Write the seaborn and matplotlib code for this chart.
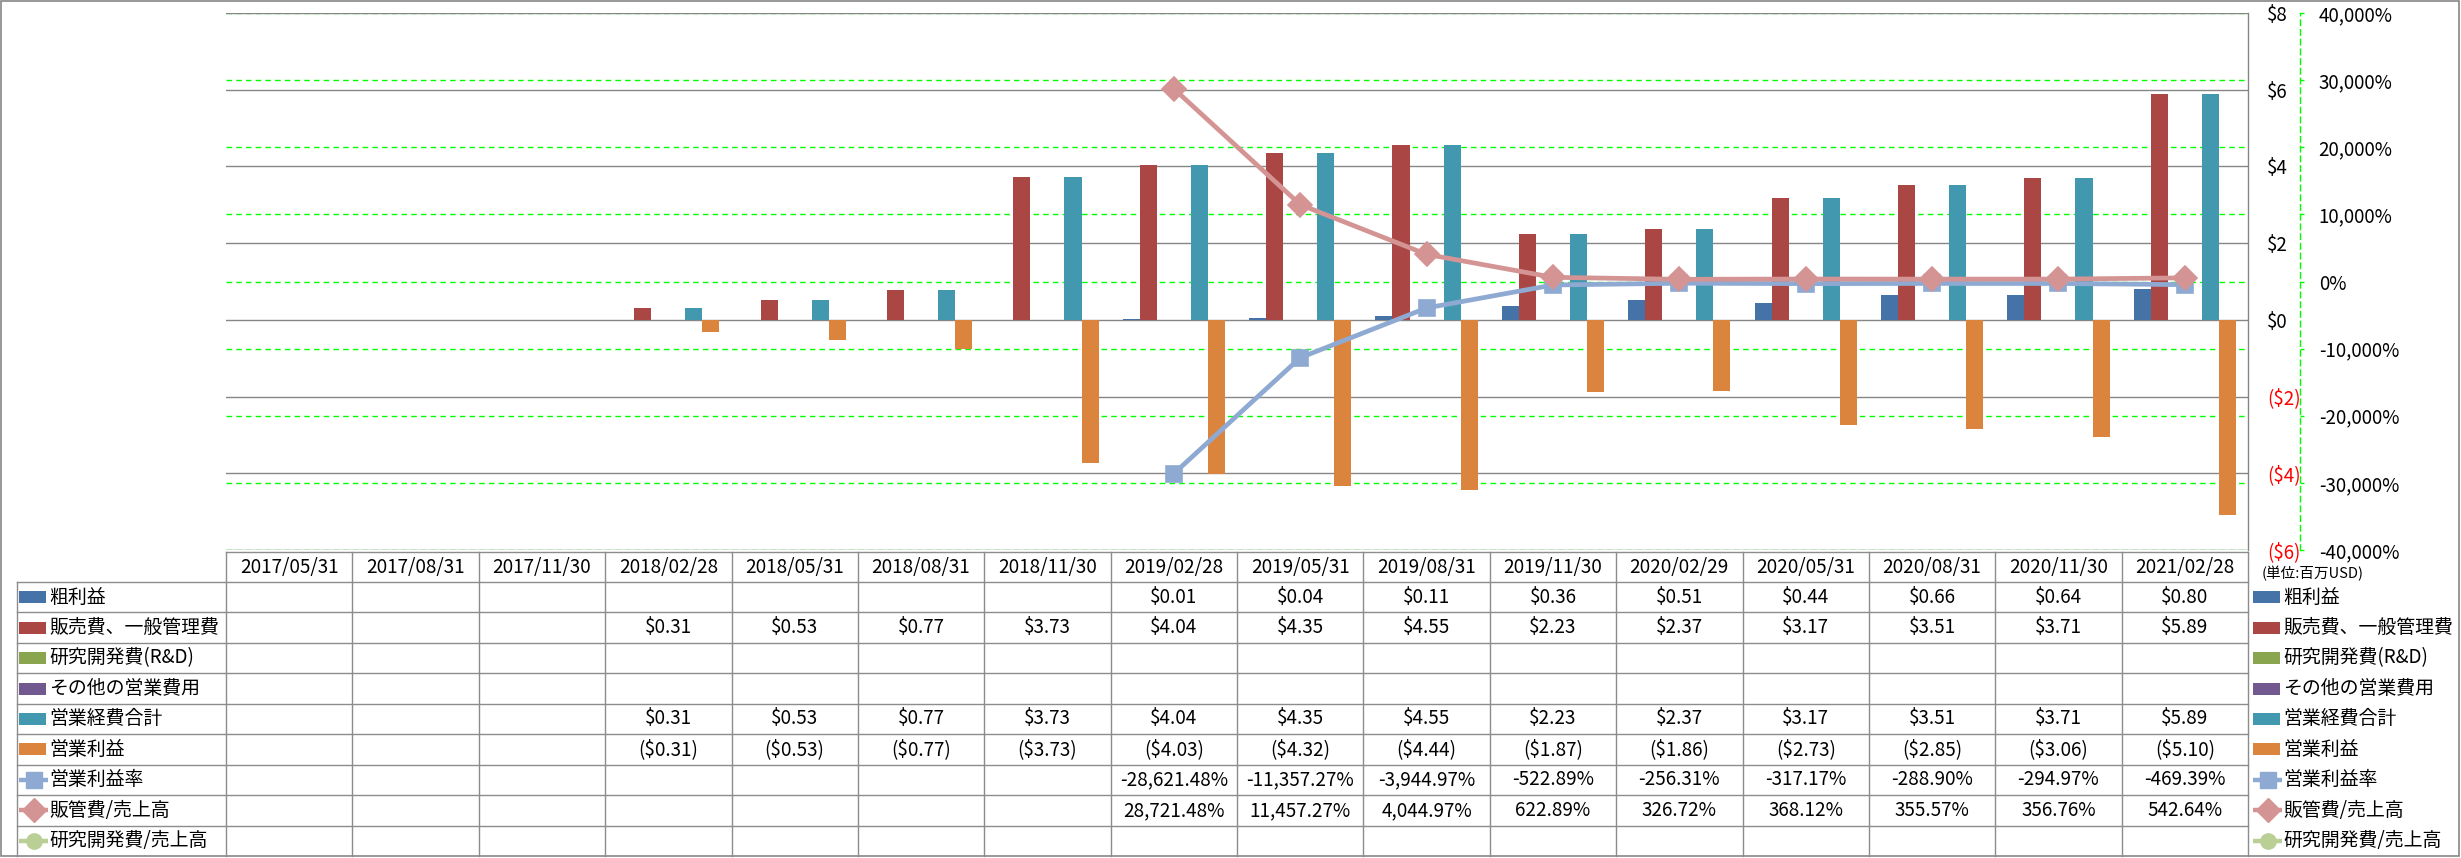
import warnings
warnings.filterwarnings("ignore")
import numpy as np
import pandas as pd
import matplotlib
matplotlib.use("Agg")
import matplotlib.pyplot as plt
import seaborn as sns
from matplotlib.patches import Rectangle

nan = np.nan

# ---------------- data ----------------
dates = ["2017/05/31", "2017/08/31", "2017/11/30", "2018/02/28", "2018/05/31",
         "2018/08/31", "2018/11/30", "2019/02/28", "2019/05/31", "2019/08/31",
         "2019/11/30", "2020/02/29", "2020/05/31", "2020/08/31", "2020/11/30",
         "2021/02/28"]

gross_profit = [nan, nan, nan, nan, nan, nan, nan, 0.01, 0.04, 0.11, 0.36, 0.51, 0.44, 0.66, 0.64, 0.80]
sga = [nan, nan, nan, 0.31, 0.53, 0.77, 3.73, 4.04, 4.35, 4.55, 2.23, 2.37, 3.17, 3.51, 3.71, 5.89]
rnd = [nan] * 16
other_opex = [nan] * 16
total_opex = [nan, nan, nan, 0.31, 0.53, 0.77, 3.73, 4.04, 4.35, 4.55, 2.23, 2.37, 3.17, 3.51, 3.71, 5.89]
op_income = [nan, nan, nan, -0.31, -0.53, -0.77, -3.73, -4.03, -4.32, -4.44, -1.87, -1.86, -2.73, -2.85, -3.06, -5.10]
op_margin = [nan, nan, nan, nan, nan, nan, nan, -28621.48, -11357.27, -3944.97, -522.89, -256.31, -317.17, -288.90, -294.97, -469.39]
sga_ratio = [nan, nan, nan, nan, nan, nan, nan, 28721.48, 11457.27, 4044.97, 622.89, 326.72, 368.12, 355.57, 356.76, 542.64]
rnd_ratio = [nan] * 16

bar_names = ["粗利益", "販売費、一般管理費", "研究開発費(R&D)", "その他の営業費用", "営業経費合計", "営業利益"]
bar_values = [gross_profit, sga, rnd, other_opex, total_opex, op_income]
bar_colors = ["#4572A7", "#AA4643", "#89A54E", "#71588F", "#4198AF", "#DB843D"]

line_names = ["営業利益率", "販管費/売上高", "研究開発費/売上高"]
line_values = [op_margin, sga_ratio, rnd_ratio]
line_colors = ["#8FAAD2", "#D59494", "#B9CF96"]
line_markers = ["s", "D", "o"]

usd_ticks = [-6, -4, -2, 0, 2, 4, 6, 8]
pct_ticks = [-40000, -30000, -20000, -10000, 0, 10000, 20000, 30000, 40000]
unit_label = "(単位:百万USD)"

# ---------------- long-form tables ----------------
bar_df = pd.DataFrame([(d, n, v) for n, vals in zip(bar_names, bar_values)
                       for d, v in zip(dates, vals) if not np.isnan(v)],
                      columns=["date", "series", "value"])
line_df = pd.DataFrame([(d, n, v) for n, vals in zip(line_names, line_values)
                        for d, v in zip(dates, vals) if not np.isnan(v)],
                       columns=["date", "series", "value"])
present_lines = [n for n in line_names if n in set(line_df["series"])]

# ---------------- figure / layout ----------------
W, H = 2461, 858
plt.rcParams["font.family"] = ["Noto Sans CJK JP", "DejaVu Sans"]
fig = plt.figure(figsize=(W / 100, H / 100), dpi=100)

def fx(x):
    return x / W

def fy(y):
    return 1 - y / H

PL, PR, PT, PB = 226, 2248, 13, 550
rect = [fx(PL), fy(PB), fx(PR) - fx(PL), fy(PT) - fy(PB)]

tab = fig.add_axes([0, 0, 1, 1])
tab.set_xlim(0, W)
tab.set_ylim(H, 0)
tab.axis("off")
tab.set_zorder(0)

ax3 = fig.add_axes(rect)   # green secondary grid (behind bars)
ax = fig.add_axes(rect)    # bars (USD)
ax2 = ax.twinx()           # lines (%)
ax3.set_zorder(1)
ax.set_zorder(2)
ax2.set_zorder(3)
ax.patch.set_visible(False)
ax3.patch.set_visible(False)

# green dashed grid
ax3.set_ylim(pct_ticks[0], pct_ticks[-1])
ax3.set_yticks(pct_ticks)
ax3.yaxis.grid(True, color="#00FF00", linestyle=(0, (4, 3)), linewidth=1.0)
ax3.set_xticks([])
ax3.tick_params(left=False, labelleft=False, right=False, labelright=False)
for s in ax3.spines.values():
    s.set_visible(False)

# bars
sns.barplot(data=bar_df, x="date", y="value", hue="series", order=dates,
            hue_order=bar_names, palette=dict(zip(bar_names, bar_colors)),
            width=0.81, saturation=1, errorbar=None, legend=False, ax=ax,
            edgecolor="none", linewidth=0)
ax.set_xlim(-0.5, len(dates) - 0.5)
ax.set_ylim(usd_ticks[0], usd_ticks[-1])
ax.set_yticks(usd_ticks)
ax.set_yticklabels([f"${t}" if t >= 0 else f"(${-t})" for t in usd_ticks])
ax.yaxis.tick_right()
ax.tick_params(axis="y", length=0, pad=13.5, labelsize=13.5)
for lab, t in zip(ax.get_yticklabels(), usd_ticks):
    lab.set_color("red" if t < 0 else "black")
ax.tick_params(axis="x", bottom=False, labelbottom=False)
ax.yaxis.grid(True, color="#868686", linewidth=1.0)
ax.set_axisbelow(True)
ax.set_xlabel("")
ax.set_ylabel("")
for k in ["left", "top", "bottom"]:
    ax.spines[k].set_visible(False)
ax.spines["right"].set_color("#868686")
ax.spines["right"].set_linewidth(1.0)

# lines
sns.pointplot(data=line_df, x="date", y="value", hue="series", order=dates,
              hue_order=present_lines,
              palette=dict(zip(line_names, line_colors)),
              markers=[line_markers[line_names.index(n)] for n in present_lines],
              linestyles=["-"] * len(present_lines),
              errorbar=None, legend=False, ax=ax2,
              linewidth=3.4, markersize=12, markeredgewidth=1.2)
ax2.set_xlim(-0.5, len(dates) - 0.5)
ax2.set_ylim(pct_ticks[0], pct_ticks[-1])
ax2.set_yticks(pct_ticks)
ax2.set_yticklabels([f"{t:,}%" for t in pct_ticks])
for lab, t in zip(ax2.get_yticklabels(), pct_ticks):
    lab.set_color("red" if t < 0 else "black")
ax2.tick_params(axis="y", direction="out", length=3, color="#00FF00",
                width=1, pad=10.5, labelsize=13.5)
ax2.set_xlabel("")
ax2.set_ylabel("")
for k in ["left", "top", "bottom"]:
    ax2.spines[k].set_visible(False)
ax2.spines["right"].set_position(("outward", 37.4))
ax2.spines["right"].set_color("#00FF00")
ax2.spines["right"].set_linestyle((0, (4, 3)))
ax2.spines["right"].set_linewidth(1.0)
ax2.tick_params(axis="x", bottom=False, labelbottom=False, top=False, labeltop=False)

# ---------------- data table ----------------
grid_c = "#8C8C8C"
LX = 17
col_w = (PR - PL) / len(dates)
col_edges = [PL + i * col_w for i in range(len(dates) + 1)]
HT, HB = 552, 582
row_h = (856 - HB) / 9
row_edges = [HB + k * row_h for k in range(10)]

tab.plot([PL, PR], [HT, HT], color=grid_c, lw=1)
for y in row_edges[:-1]:
    tab.plot([LX, PR], [y, y], color=grid_c, lw=1)
tab.plot([LX, LX], [HB, row_edges[-1]], color=grid_c, lw=1)
for x in col_edges:
    tab.plot([x, x], [HT, row_edges[-1]], color=grid_c, lw=1)

fs = 13.6
for i, d in enumerate(dates):
    tab.text(PL + (i + 0.5) * col_w, (HT + HB) / 2, d, ha="center", va="center", fontsize=fs)

all_names = bar_names + line_names
all_values = bar_values + line_values
all_colors = bar_colors + line_colors

def fmt_money(v):
    return f"${v:.2f}" if v >= 0 else f"(${-v:.2f})"

def fmt_pct(v):
    return f"{v:,.2f}%"

def draw_key(x0, yc, k):
    if k < len(bar_names):
        tab.add_patch(Rectangle((x0, yc - 6), 27, 12, color=all_colors[k], lw=0))
    else:
        j = k - len(bar_names)
        tab.plot([x0, x0 + 29], [yc, yc], color=line_colors[j], lw=3.2,
                 solid_capstyle="butt")
        tab.plot([x0 + 14.5], [yc], marker=line_markers[j], color=line_colors[j],
                 markersize=11 if line_markers[j] != "D" else 12, mec=line_colors[j])

for k, (name, vals) in enumerate(zip(all_names, all_values)):
    yc = (row_edges[k] + row_edges[k + 1]) / 2
    draw_key(19, yc, k)
    tab.text(49, yc, name, ha="left", va="center", fontsize=fs)
    draw_key(2253, yc, k)
    tab.text(2283, yc, name, ha="left", va="center", fontsize=fs)
    fmt = fmt_money if k < len(bar_names) else fmt_pct
    for i, v in enumerate(vals):
        if not np.isnan(v):
            tab.text(PL + (i + 0.5) * col_w, yc, fmt(v), ha="center", va="center", fontsize=fs)

tab.text(2262, 574, unit_label, ha="left", va="center", fontsize=10.5)

# outer frame
tab.add_patch(Rectangle((1, 1), W - 3, H - 3, fill=False, edgecolor="#868686", lw=1.2))

fig.savefig("out.png", dpi=100)
